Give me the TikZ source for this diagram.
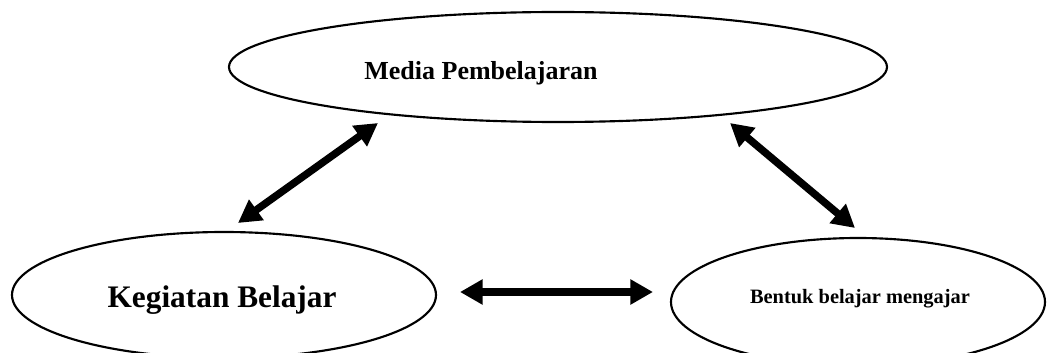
\documentclass[tikz,border=0pt]{standalone}
\usepackage{fontspec}
\setmainfont{Liberation Serif}
\usetikzlibrary{shapes.geometric,arrows.meta}
\tikzset{
  oval/.style={ellipse, draw, line width=1.6pt, inner sep=0pt},
  caption/.style={anchor=base, inner sep=0pt, font=\bfseries},
  link/.style={line width=5.6pt, {Triangle[length=17pt,width=18pt]}-{Triangle[length=17pt,width=18pt]}}
}
\begin{document}
\begin{tikzpicture}[x=0.75pt,y=-0.75pt]
  \useasboundingbox (0,0) rectangle (1047,353);

  % the three concepts
  \node[oval, minimum width=493.5pt, minimum height=82.5pt] (media) at (558,67) {};
  \node[oval, minimum width=318pt, minimum height=94.5pt] (kegiatan) at (224,295) {};
  \node[oval, minimum width=280.5pt, minimum height=96pt] (bentuk) at (858,302) {};

  \node[caption, font=\fontsize{19.5}{22}\selectfont\bfseries] (mediaT) at (481,80) {Media Pembelajaran};
  \node[caption, font=\fontsize{23.5}{27}\selectfont\bfseries] (kegiatanT) at (222,307) {Kegiatan Belajar};
  \node[caption, font=\fontsize{15.3}{18}\selectfont\bfseries] (bentukT) at (860,303) {Bentuk belajar mengajar};

  % arrow ends between the ovals
  \coordinate (kUp) at (238,223);
  \coordinate (mLeft) at (378,123);
  \coordinate (mRight) at (730,123);
  \coordinate (bUp) at (855,228);
  \coordinate (kRight) at (460,292);
  \coordinate (bLeft) at (653,292);

  % two-way relations
  \draw[link] (kUp) -- (mLeft);
  \draw[link] (mRight) -- (bUp);
  \draw[link] (kRight) -- (bLeft);
\end{tikzpicture}
\end{document}
